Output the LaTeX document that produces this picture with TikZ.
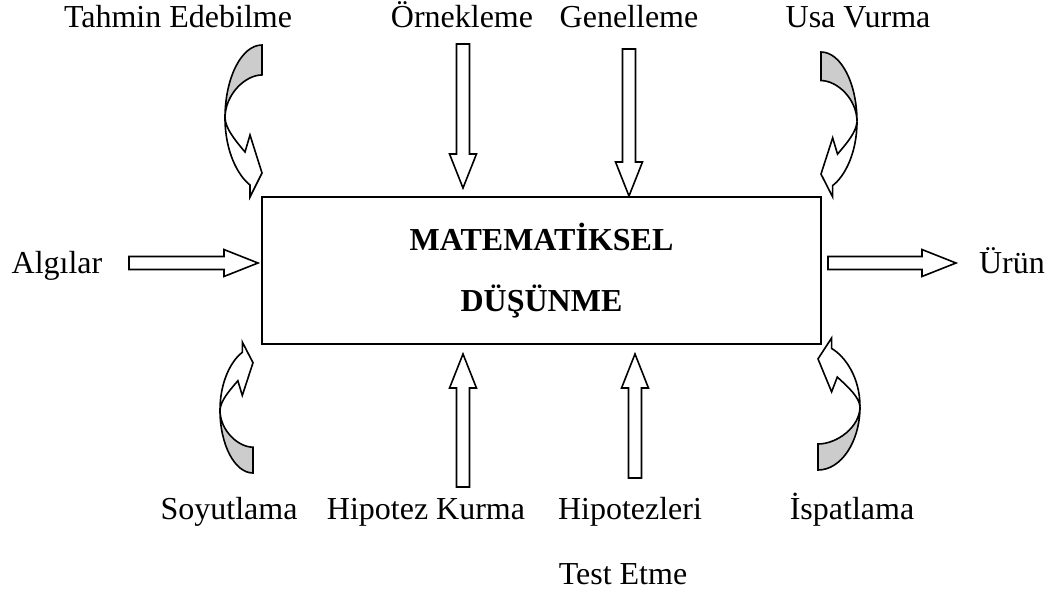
\documentclass[tikz,border=0pt]{standalone}
\usepackage{fontspec}
\setmainfont{Liberation Serif}
\usetikzlibrary{calc}

\tikzset{
  blk/.style={draw, line width=0.6pt, fill=white, line join=miter},
  back/.style={draw, line width=0.6pt, fill=black!20},
  lbl/.style={anchor=base, font=\fontsize{12}{14}\selectfont, inner sep=0pt},
  mainbox/.style={draw, line width=0.6pt, minimum width=209.6pt, minimum height=55.1pt,
    align=center, font=\fontsize{12}{14}\selectfont\bfseries},
  pics/curvedarrow/.style={code={
    \draw[back] (0,0) .. controls (-0.552,0) and (-1,0.215) .. (-1,0.48)
      .. controls (-1,0.324) and (-0.448,0.197) .. (0,0.197) -- cycle;
    \draw[blk] (-1,0.48) .. controls (-1,0.7) and (-0.65,0.86) .. (-0.324,0.921)
      -- (-0.324,1) -- (0,0.842) -- (-0.324,0.592) -- (-0.459,0.704)
      .. controls (-0.75,0.62) and (-0.98,0.55) .. (-1,0.48) -- cycle;
  }}
}

% block arrow from #1 to tip #2
\newcommand{\blockarrow}[2]{%
  \coordinate (#2-hb) at ($(#2)!12.75pt!(#1)$);
  \draw[blk] ($(#1)!2.45pt!90:(#2)$) -- ($(#2-hb)!2.45pt!-90:(#1)$)
    -- ($(#2-hb)!5.05pt!-90:(#1)$) -- (#2) -- ($(#2-hb)!5.05pt!90:(#1)$)
    -- ($(#2-hb)!2.45pt!90:(#1)$) -- ($(#1)!2.45pt!-90:(#2)$) -- cycle;
}

\begin{document}
\begin{tikzpicture}[x=0.375pt,y=-0.375pt]
    \useasboundingbox (0,0) rectangle (1055,594);

    \node[mainbox] (dusunme) at (541.5,270.5) {MATEMATİKSEL\\[8.75pt]DÜŞÜNME};

    \node[lbl] (tahmin) at (178,27) {Tahmin Edebilme};
    \node[lbl] (ornek) at (462,27) {Örnekleme};
    \node[lbl] (genel) at (629,27) {Genelleme};
    \node[lbl] (usa) at (858,27) {Usa Vurma};
    \node[lbl] (algi) at (57,273) {Algılar};
    \node[lbl] (urun) at (1012,273) {Ürün};
    \node[lbl] (soyut) at (229,519) {Soyutlama};
    \node[lbl] (hipotez) at (426,519) {Hipotez Kurma};
    \node[lbl] (hiptest) at (630,519) {Hipotezleri};
    \node[lbl] (test) at (623,584) {Test Etme};
    \node[lbl] (ispat) at (852,519) {İspatlama};

    \coordinate (ornS) at (463,44);  \coordinate (ornT) at (463,188);
    \coordinate (genS) at (629,49);  \coordinate (genT) at (629,196);
    \coordinate (algS) at (129,263); \coordinate (algT) at (258,263);
    \coordinate (urnS) at (828,263); \coordinate (urnT) at (956,263);
    \coordinate (hipS) at (463,487); \coordinate (hipT) at (463,354);
    \coordinate (tstS) at (635,478); \coordinate (tstT) at (635,354);

    \foreach \s/\t in {ornS/ornT,genS/genT,algS/algT,urnS/urnT,hipS/hipT,tstS/tstT}
        \blockarrow{\s}{\t};

    \pic[xscale=37,yscale=152] at (262,45) {curvedarrow};
    \pic[xscale=-36,yscale=145] at (821,52) {curvedarrow};
    \pic[xscale=33,yscale=-131] at (253,473) {curvedarrow};
    \pic[xscale=-42,yscale=-132] at (818,470) {curvedarrow};

\end{tikzpicture}
\end{document}
